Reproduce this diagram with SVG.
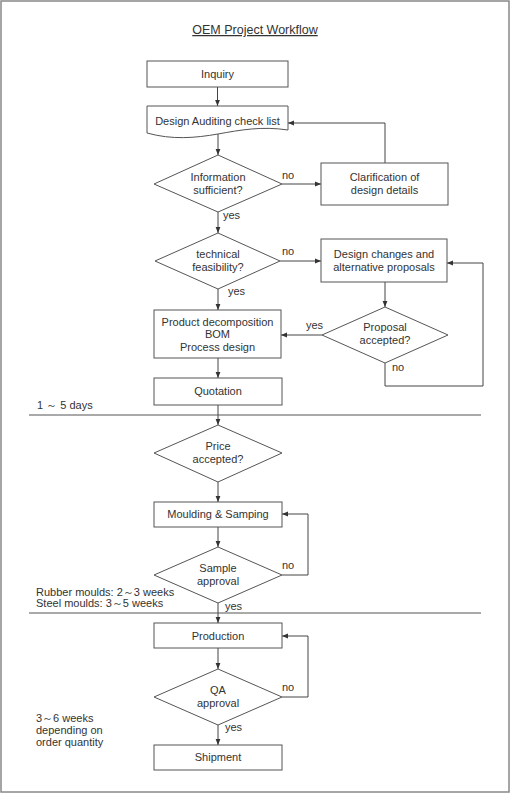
<svg xmlns="http://www.w3.org/2000/svg" width="510" height="794" viewBox="0 0 510 794">
<defs>
<marker id="ah" viewBox="0 0 10 10" refX="10" refY="5" markerWidth="6" markerHeight="6" orient="auto" markerUnits="userSpaceOnUse">
<path d="M0,1 L10,5 L0,9 Z" fill="#333"/>
</marker>
<style>
.n{fill:#fff;stroke:#555;stroke-width:1}
.t{font-family:"Liberation Sans",Arial,sans-serif;font-size:11px;fill:#333;text-anchor:middle}
.l{font-family:"Liberation Sans",Arial,sans-serif;font-size:11px;fill:#333}
.c{fill:none;stroke:#444;stroke-width:1}
.a{fill:none;stroke:#444;stroke-width:1;marker-end:url(#ah)}
.sep{stroke:#555;stroke-width:1}
</style>
</defs>
<rect x="0" y="0" width="510" height="794" fill="#fff"/>
<rect x="1" y="1" width="508" height="791" fill="none" stroke="#888" stroke-width="1.5"/>
<text x="255" y="34" class="t" font-size="12.5" style="font-size:12.5px" text-decoration="underline">OEM Project Workflow</text>

<g id="connectors">
<path class="a" d="M217.5,87 V106"/>
<path class="a" d="M218,132 V155"/>
<path class="a" d="M282,184 H321"/>
<path class="a" d="M385,163 V123 H288"/>
<path class="a" d="M218,212 V233"/>
<path class="a" d="M280,261 H321"/>
<path class="a" d="M385,282 V307"/>
<path class="a" d="M322,335 H281"/>
<path class="a" d="M385,363 V386 H483 V263 H447"/>
<path class="a" d="M218,289 V310"/>
<path class="a" d="M218,358 V378"/>
<path class="a" d="M218,405 V425"/>
<path class="a" d="M218,482 V502"/>
<path class="a" d="M218,527 V547"/>
<path class="a" d="M282,575 H308 V514 H282"/>
<path class="a" d="M218,603 V623"/>
<path class="a" d="M218,648 V669"/>
<path class="a" d="M282,697 H308 V636 H282"/>
<path class="a" d="M218,725 V745"/>
</g>

<line class="sep" x1="29" y1="415" x2="481" y2="415"/>
<line class="sep" x1="29" y1="613" x2="481" y2="613"/>

<g id="inquiry">
<rect class="n" x="147" y="61" width="141" height="26"/>
<text class="t" x="217.5" y="78">Inquiry</text>
</g>
<g id="design-auditing">
<path class="n" d="M147,106 H288 V130 C262,126 240,130 218,134 C195,138 172,140 147,133 Z"/>
<text class="t" x="217.5" y="125">Design Auditing check list</text>
</g>
<g id="info-sufficient">
<polygon class="n" points="218,155 282,184 218,212 154,184"/>
<text class="t" x="218" y="181">Information</text>
<text class="t" x="218" y="194">sufficient?</text>
</g>
<g id="clarification">
<rect class="n" x="321" y="163" width="127" height="42"/>
<text class="t" x="384.5" y="181">Clarification of</text>
<text class="t" x="384.5" y="194">design details</text>
</g>
<g id="tech-feasibility">
<polygon class="n" points="218,233 280,261 218,289 155,261"/>
<text class="t" x="218" y="258">technical</text>
<text class="t" x="218" y="271">feasibility?</text>
</g>
<g id="design-changes">
<rect class="n" x="321" y="239" width="126" height="43"/>
<text class="t" x="384" y="258">Design changes and</text>
<text class="t" x="384" y="271">alternative proposals</text>
</g>
<g id="proposal-accepted">
<polygon class="n" points="385,307 448,335 385,363 322,335"/>
<text class="t" x="385" y="331">Proposal</text>
<text class="t" x="385" y="344">accepted?</text>
</g>
<g id="product">
<rect class="n" x="154" y="310" width="127" height="48"/>
<text class="t" x="217.5" y="326">Product decomposition</text>
<text class="t" x="217.5" y="338">BOM</text>
<text class="t" x="217.5" y="351">Process design</text>
</g>
<g id="quotation">
<rect class="n" x="154" y="378" width="128" height="27"/>
<text class="t" x="218" y="395">Quotation</text>
</g>
<g id="price-accepted">
<polygon class="n" points="218,425 282,453 218,482 154,453"/>
<text class="t" x="218" y="450">Price</text>
<text class="t" x="218" y="463">accepted?</text>
</g>
<g id="moulding">
<rect class="n" x="154" y="502" width="128" height="25"/>
<text class="t" x="218" y="518">Moulding &amp; Samping</text>
</g>
<g id="sample-approval">
<polygon class="n" points="218,547 282,575 218,603 154,575"/>
<text class="t" x="218" y="572">Sample</text>
<text class="t" x="218" y="585">approval</text>
</g>
<g id="production">
<rect class="n" x="154" y="623" width="128" height="25"/>
<text class="t" x="218" y="640">Production</text>
</g>
<g id="qa-approval">
<polygon class="n" points="218,669 282,697 218,725 154,697"/>
<text class="t" x="218" y="694">QA</text>
<text class="t" x="218" y="707">approval</text>
</g>
<g id="shipment">
<rect class="n" x="154" y="745" width="128" height="25"/>
<text class="t" x="218" y="761">Shipment</text>
</g>

<g id="labels">
<text class="l" x="282" y="179">no</text>
<text class="l" x="223" y="219">yes</text>
<text class="l" x="282" y="255">no</text>
<text class="l" x="228" y="295">yes</text>
<text class="l" x="306" y="329">yes</text>
<text class="l" x="392" y="371">no</text>
<text class="l" x="37" y="409">1 ～ 5 days</text>
<text class="l" x="282" y="569">no</text>
<text class="l" x="36" y="596">Rubber moulds: 2～3 weeks</text>
<text class="l" x="36" y="607">Steel moulds: 3～5 weeks</text>
<text class="l" x="225" y="610">yes</text>
<text class="l" x="282" y="691">no</text>
<text class="l" x="225" y="731">yes</text>
<text class="l" x="36" y="722">3～6 weeks</text>
<text class="l" x="36" y="734">depending on</text>
<text class="l" x="36" y="746">order quantity</text>
</g>
</svg>
